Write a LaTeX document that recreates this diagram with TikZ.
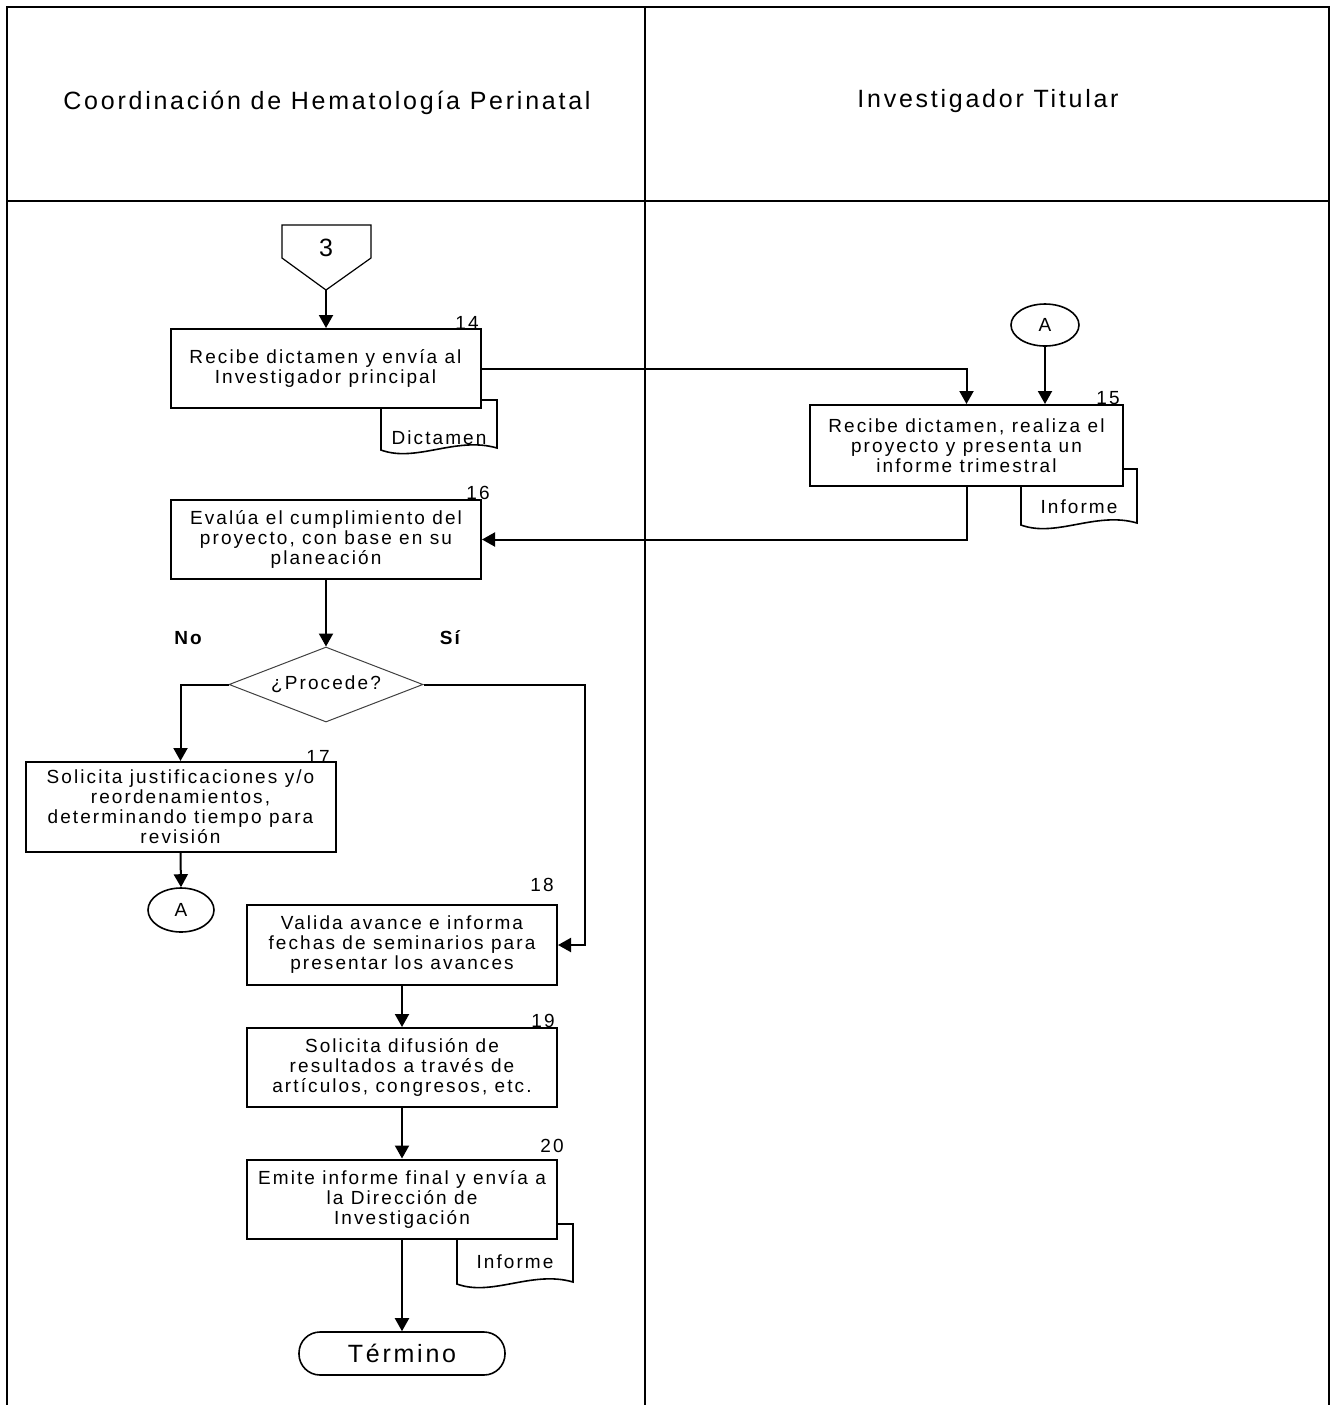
\documentclass[tikz,border=0pt]{standalone}
\usepackage{fontspec}
\setmainfont[LetterSpace=11]{Liberation Sans}
\usetikzlibrary{shapes.geometric,arrows.meta,positioning,calc}

\tikzset{
  proceso/.style={draw, line width=1pt, fill=white, minimum width=155pt, minimum height=39.5pt,
    inner sep=0pt, align=center, font=\fontsize{9.5}{10}\selectfont},
  flecha/.style={line width=1pt, -{Triangle[length=6.5pt,width=7pt]}},
  conector/.style={draw, ellipse, line width=0.8pt, fill=white, minimum width=34pt, minimum height=21pt,
    inner sep=0pt, font=\fontsize{9.5}{10}\selectfont},
  decision/.style={draw=black!75, diamond, line width=0.5pt, minimum width=97pt, minimum height=37.5pt, inner sep=0pt},
  num/.style={font=\fontsize{9.5}{10}\selectfont, inner sep=0pt},
  carril/.style={font=\fontsize{12.5}{14}\selectfont},
}

\begin{document}
\begin{tikzpicture}[x=0.5pt,y=-0.5pt]
\useasboundingbox (0,0) rectangle (1331,1405);
% marco y carriles
\draw[line width=1.3pt] (7,1405) -- (7,7) -- (1329,7) -- (1329,1405);
\draw[line width=1.3pt] (7,201) -- (1329,201);
\draw[line width=0.8pt] (645,7) -- (645,1405);
\node[carril] (carrilA) at (327,103) {Coordinación de Hematología Perinatal};
\node[carril] (carrilB) at (988,101) {Investigador Titular};

% documentos (van detras de las cajas)
\foreach \x/\y/\h/\t/\n in {381/400/50/Dictamen/doc14, 1021/469/56/Informe/doc15, 457/1224/60/Informe/doc20}{
  \filldraw[fill=white, line width=0.8pt] (\x,\y) -- (\x,\y+\h) .. controls (\x+35,\y+\h+13) and (\x+75,\y+\h-14) .. (\x+116,\y+\h-2) -- (\x+116,\y) -- cycle;
  \node[num] (\n) at (\x+58,\y+38) {\t};
}

% conector de pagina
\filldraw[fill=white, line width=0.6pt] (282,225) -- (371,225) -- (371,258) -- (326,290) -- (282,258) -- cycle;
\node[font=\fontsize{12.5}{14}\selectfont] (pag3) at (326,248) {3};
\coordinate (pag3tip) at (326,290);

% actividades
\node[proceso] (b14) at (325.5,368.5) {Recibe dictamen y envía al\\Investigador principal};
\node[proceso, minimum width=156.5pt, minimum height=40.5pt] (b15) at (966.5,445.5) {Recibe dictamen, realiza el\\proyecto y presenta un\\informe trimestral};
\node[proceso] (b16) at (326,539.5) {Evalúa el cumplimiento del\\proyecto, con base en su\\planeación};
\node[proceso, minimum height=45pt] (b17) at (180.5,807) {Solicita justificaciones y/o\\reordenamientos,\\determinando tiempo para\\revisión};
\node[proceso, minimum height=40pt] (b18) at (402,945) {Valida avance e informa\\fechas de seminarios para\\presentar los avances};
\node[proceso] (b19) at (402,1067.5) {Solicita difusión de\\resultados a través de\\artículos, congresos, etc.};
\node[proceso] (b20) at (402,1199) {Emite informe final y envía a\\la Dirección de\\Investigación};

\foreach \n/\x/\y in {14/467/323, 15/1108/398, 16/478/493, 17/318/757, 18/542/885, 19/543/1021, 20/552/1146}{
  \node[num] (n\n) at (\x,\y) {\n};
}

% decision
\node[decision] (dec) at (326,684.5) {};
\node[font=\fontsize{9.5}{10}\selectfont] (procede) at (dec.center) {¿Procede?};
\node[font=\bfseries\fontsize{9.5}{10}\selectfont] (no) at (188,638) {No};
\node[font=\bfseries\fontsize{9.5}{10}\selectfont] (si) at (450,638) {Sí};

\node[conector] (A1) at (1045,325) {A};
\node[conector, minimum width=33pt, minimum height=22pt] (A2) at (181,910) {A};
\node[draw, line width=0.8pt, rounded corners=10.5pt, minimum width=103pt, minimum height=21.5pt,
  inner sep=0pt, font=\fontsize{12.5}{14}\selectfont] (fin) at (402,1353.5) {Término};

% flujo
\coordinate (giroSi) at (585,684.5);
\draw[flecha] (pag3tip) -- (b14.north -| pag3tip);
\draw[flecha] (b14.east) -| (b15.north);
\draw[flecha] (A1.south) -- (A1.south |- b15.north);
\draw[flecha] (b15.south) |- (b16.east);
\draw[flecha] (b16.south) -- (dec.north);
\draw[flecha] (dec.west) -| (b17.north);
\draw[flecha] (dec.east) -- (giroSi) |- (b18.east);
\draw[flecha] (b17.south) -- (A2.north);
\draw[flecha] (b18.south) -- (b19.north);
\draw[flecha] (b19.south) -- (b20.north);
\draw[flecha] (b20.south) -- (fin.north);
\end{tikzpicture}
\end{document}
